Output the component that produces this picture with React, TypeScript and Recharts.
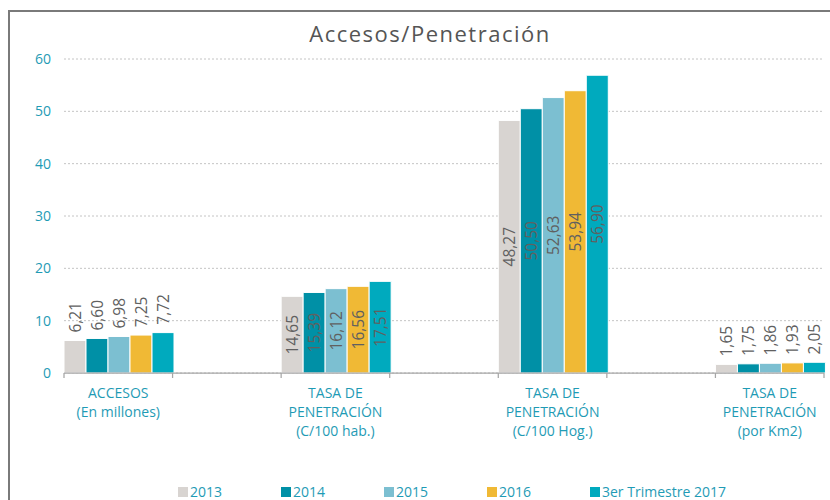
import React from 'react';
import { BarChart, Bar, XAxis, YAxis, CartesianGrid, Legend, LabelList } from 'recharts';

const categories = [
  'ACCESOS\n(En millones)',
  'TASA DE\nPENETRACIÓN\n(C/100 hab.)',
  'TASA DE\nPENETRACIÓN\n(C/100 Hog.)',
  'TASA DE\nPENETRACIÓN\n(por Km2)',
];

const values2013 = [6.21, 14.65, 48.27, 1.65];
const values2014 = [6.6, 15.39, 50.5, 1.75];
const values2015 = [6.98, 16.12, 52.63, 1.86];
const values2016 = [7.25, 16.56, 53.94, 1.93];
const values2017 = [7.72, 17.51, 56.9, 2.05];

const seriesNames = ['2013', '2014', '2015', '2016', '3er Trimestre 2017'];
const seriesKeys = ['y2013', 'y2014', 'y2015', 'y2016', 'y2017'];
const seriesColors = ['#d8d4d1', '#0090a6', '#7cbfd1', '#f0b935', '#00aabe'];
const seriesValues = [values2013, values2014, values2015, values2016, values2017];

const yTicks = [0, 10, 20, 30, 40, 50, 60];

const TEAL = '#1f9bb5';
const FONT = '"Open Sans", sans-serif';
const LABEL_FS = 15.5;

// Build rows: each category followed by an empty spacer slot (as in the original chart)
const data: any[] = [];
categories.forEach((c, i) => {
  if (i > 0) data.push({ name: '' });
  const row: any = { name: c };
  seriesKeys.forEach((k, si) => {
    row[k] = seriesValues[si][i];
  });
  data.push(row);
});

const XTick = (props: any) => {
  const { x, y, payload } = props;
  const label: string = payload && payload.value ? String(payload.value) : '';
  if (!label) return <g />;
  const half = payload.offset ?? 0;
  const lines = label.split('\n');
  return (
    <g>
      <line x1={x - half} x2={x - half} y1={y} y2={y + 5} stroke="#a6a6a6" strokeWidth={1.25} />
      <line x1={x + half} x2={x + half} y1={y} y2={y + 5} stroke="#a6a6a6" strokeWidth={1.25} />
      <text x={x} y={y + 25} textAnchor="middle" fill={TEAL} fontSize={14} fontFamily={FONT}>
        {lines.map((l, i) => (
          <tspan key={i} x={x} dy={i === 0 ? 0 : 19}>
            {l}
          </tspan>
        ))}
      </text>
    </g>
  );
};

const renderValueLabel = (props: any) => {
  const { x, y, width, height, value } = props;
  if (value == null || value === '') return null;
  const text = Number(value).toFixed(2).replace('.', ',');
  const textLen = (text.length - 1) * 0.57 * LABEL_FS + 0.25 * LABEL_FS;
  const cx = Number(x) + Number(width) / 2;
  const h = Number(height);
  const inside = h >= textLen + 18;
  const cy = inside ? Number(y) + h / 2 : Number(y) - 8 - textLen / 2;
  return (
    <text
      x={cx}
      y={cy}
      transform={`rotate(-90 ${cx} ${cy})`}
      textAnchor="middle"
      dominantBaseline="central"
      fill="#606060"
      fontSize={LABEL_FS}
      fontFamily={FONT}
    >
      {text}
    </text>
  );
};

const renderLegend = (props: any) => {
  const payload = props.payload && props.payload.length
    ? props.payload
    : seriesNames.map((n, i) => ({ value: n, color: seriesColors[i] }));
  return (
    <div style={{ display: 'flex', height: 16, paddingLeft: 178, alignItems: 'center' }}>
      {payload.map((p: any, i: number) => (
        <div
          key={i}
          style={{
            display: 'flex',
            alignItems: 'center',
            width: i < payload.length - 1 ? 103 : 'auto',
            fontFamily: FONT,
            fontSize: 14,
            color: TEAL,
            lineHeight: '16px',
          }}
        >
          <span style={{ display: 'inline-block', width: 10, height: 10, background: p.color, marginRight: 2 }} />
          <span>{p.value}</span>
        </div>
      ))}
    </div>
  );
};

export default function App() {
  return (
    <div
      style={{
        position: 'absolute',
        left: 0,
        top: 0,
        width: 830,
        height: 500,
        overflow: 'hidden',
        background: '#ffffff',
      }}
    >
      <div
        style={{
          position: 'absolute',
          left: 8,
          top: 10,
          width: 1000,
          height: 1000,
          borderTop: '2px solid #7a7a7a',
          borderLeft: '2px solid #7a7a7a',
        }}
      />
      <div
        style={{
          position: 'absolute',
          left: 15,
          top: 18,
          width: 830,
          textAlign: 'center',
          fontFamily: FONT,
          fontSize: 22,
          lineHeight: '30px',
          letterSpacing: 1.5,
          color: '#555555',
        }}
      >
        Accesos/Penetración
      </div>
      <div style={{ position: 'absolute', left: 0, top: 0 }}>
        <BarChart
          width={830}
          height={500}
          data={data}
          margin={{ top: 59, right: 6, bottom: 0, left: 0 }}
          barCategoryGap={0}
          barGap={0}
        >
          <CartesianGrid vertical={false} stroke="#c4c4c4" strokeDasharray="2 2" />
          <XAxis
            dataKey="name"
            interval={0}
            height={111}
            tickLine={false}
            tickSize={0}
            tickMargin={0}
            axisLine={{ stroke: '#a6a6a6', strokeWidth: 1.25 }}
            tick={<XTick />}
          />
          <YAxis
            domain={[0, 60]}
            ticks={yTicks}
            width={64}
            axisLine={false}
            tickLine={false}
            tickSize={0}
            tickMargin={13}
            tick={{ fill: TEAL, fontSize: 14, fontFamily: FONT }}
          />
          <Legend verticalAlign="bottom" content={renderLegend} />
          {seriesKeys.map((k, i) => (
            <Bar
              key={k}
              dataKey={k}
              name={seriesNames[i]}
              fill={seriesColors[i]}
              stroke="#ffffff"
              strokeWidth={1}
              isAnimationActive={false}
            >
              <LabelList dataKey={k} content={renderValueLabel} />
            </Bar>
          ))}
        </BarChart>
      </div>
    </div>
  );
}
